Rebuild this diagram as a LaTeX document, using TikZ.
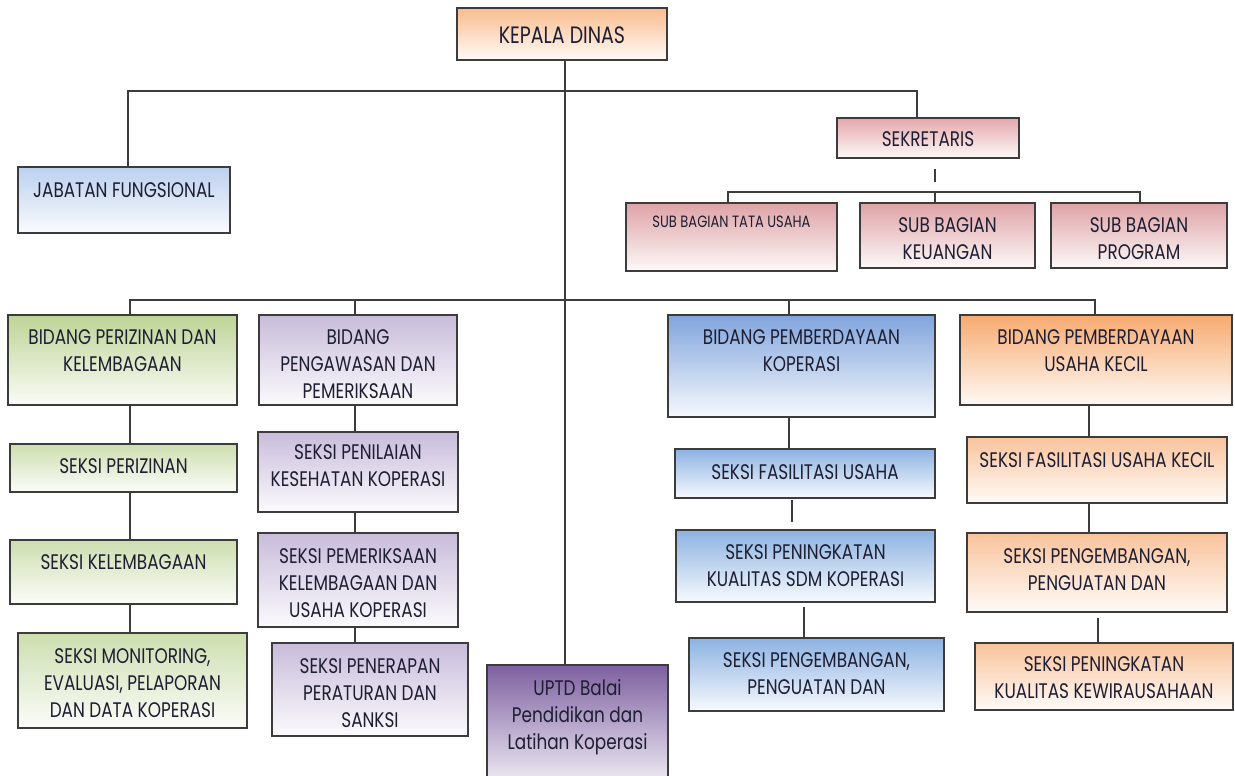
\documentclass[tikz,border=0pt]{standalone}
\usepackage{fontspec}
\setmainfont[FakeStretch=0.8]{Poppins}
\usetikzlibrary{fit}
\definecolor{txt}{RGB}{30,30,50}
\definecolor{bord}{RGB}{60,60,60}
\definecolor{cOr}{RGB}{249,188,142}
\definecolor{cOr2}{RGB}{247,170,112}
\definecolor{cOr3}{RGB}{249,195,155}
\definecolor{cBlL}{RGB}{188,208,238}
\definecolor{cBl}{RGB}{128,164,220}
\definecolor{cBl2}{RGB}{140,178,226}
\definecolor{cPk}{RGB}{228,168,170}
\definecolor{cPk2}{RGB}{222,163,166}
\definecolor{cGr}{RGB}{190,212,150}
\definecolor{cGr2}{RGB}{205,222,175}
\definecolor{cPu}{RGB}{200,188,218}
\definecolor{cUp}{RGB}{125,96,160}
\tikzset{
  obox/.style={draw=bord, line width=0.75pt, inner sep=0pt},
  lbl/.style={text=txt, align=center, font=\fontsize{12}{15.5}\selectfont, inner sep=0pt},
  conn/.style={draw=bord, line width=0.65pt},
}
\newcommand\obx[8]{%
  \node[obox, top color=#6, bottom color=#6!7!white, fit={(#2,#3)(#4,#5)}] (#1) {};
  \node[lbl] (#1t) at ({(#2+#4)/2},#7) {#8};}
\begin{document}
\begin{tikzpicture}[x=0.02cm, y=-0.02cm]
\useasboundingbox (0,0) rectangle (1235,775);
\clip (0,0) rectangle (1235,775);
\fill[white] (0,0) rectangle (1235,775);
% boxes
\obx{kd}{457}{8}{667}{60}{cOr}{35}{\fontsize{13.5}{15}\selectfont KEPALA DINAS}
\obx{jf}{18}{167}{230}{233}{cBlL}{190}{JABATAN FUNGSIONAL}
\obx{sek}{837}{118}{1019}{158}{cPk}{139}{SEKRETARIS}
\obx{sbtu}{626}{203}{837}{271}{cPk2}{222}{\fontsize{9.3}{10}\selectfont SUB BAGIAN TATA USAHA}
\obx{sbk}{860}{203}{1035}{268}{cPk2}{239}{SUB BAGIAN\\KEUANGAN}
\obx{sbp}{1051}{203}{1227}{268}{cPk2}{239}{SUB BAGIAN\\PROGRAM}
\obx{bpk}{8}{315}{237}{405}{cGr}{351}{BIDANG PERIZINAN DAN\\KELEMBAGAAN}
\obx{bpp}{259}{315}{457}{405}{cPu}{364}{BIDANG\\PENGAWASAN DAN\\PEMERIKSAAN}
\obx{bkop}{668}{315}{935}{417}{cBl}{351}{BIDANG PEMBERDAYAAN\\KOPERASI}
\obx{buk}{960}{315}{1232}{405}{cOr2}{351}{BIDANG PEMBERDAYAAN\\USAHA KECIL}
\obx{sp}{10}{444}{237}{492}{cGr2}{466}{SEKSI PERIZINAN}
\obx{sk}{10}{540}{237}{604}{cGr2}{562}{SEKSI KELEMBAGAAN}
\obx{sm}{18}{633}{247}{728}{cGr2}{683}{SEKSI MONITORING,\\EVALUASI, PELAPORAN\\DAN DATA KOPERASI}
\obx{spn}{258}{432}{458}{512}{cPu}{466}{SEKSI PENILAIAN\\KESEHATAN KOPERASI}
\obx{spm}{258}{533}{458}{627}{cPu}{583}{SEKSI PEMERIKSAAN\\KELEMBAGAAN DAN\\USAHA KOPERASI}
\obx{spr}{272}{643}{468}{736}{cPu}{693}{SEKSI PENERAPAN\\PERATURAN DAN\\SANKSI}
\obx{uptd}{487}{665}{668}{790}{cUp}{717}{UPTD Balai\\Pendidikan dan\\Latihan Koperasi}
\obx{sfu}{675}{449}{935}{498}{cBl2}{472}{SEKSI FASILITASI USAHA}
\obx{spk}{676}{530}{935}{602}{cBl2}{566}{SEKSI PENINGKATAN\\KUALITAS SDM KOPERASI}
\obx{spg}{689}{638}{944}{711}{cBl2}{674}{SEKSI PENGEMBANGAN,\\PENGUATAN DAN}
\obx{sfk}{967}{437}{1227}{503}{cOr3}{460}{SEKSI FASILITASI USAHA KECIL}
\obx{spgo}{967}{533}{1227}{612}{cOr3}{570}{SEKSI PENGEMBANGAN,\\PENGUATAN DAN}
\obx{skw}{975}{643}{1233}{710}{cOr3}{678}{SEKSI PENINGKATAN\\KUALITAS KEWIRAUSAHAAN}
% connectors
\draw[conn] (kd.south -| 565,0) -- (uptd.north -| 565,0);
\draw[conn] (jf.north -| 128,0) -- (128,91) -- (917,91) -- (sek.north -| 917,0);
\coordinate (s1) at (935,169); \coordinate (s2) at (935,182);
\draw[conn] (s1) -- (s2);
\draw[conn] (sbtu.north -| 728,0) -- (728,192) -- (1140,192) -- (sbp.north -| 1140,0);
\draw[conn] (935,192) -- (sbk.north -| 935,0);
\draw[conn] (bpk.north -| 130,0) -- (130,300) -- (1095,300) -- (buk.north -| 1095,0);
\draw[conn] (355,300) -- (bpp.north -| 355,0);
\draw[conn] (789,300) -- (bkop.north -| 789,0);
\draw[conn] (bpk.south -| 130,0) -- (sp.north -| 130,0);
\draw[conn] (sp.south -| 130,0) -- (sk.north -| 130,0);
\draw[conn] (sk.south -| 130,0) -- (sm.north -| 130,0);
\draw[conn] (bpp.south -| 355,0) -- (spn.north -| 355,0);
\draw[conn] (spn.south -| 355,0) -- (spm.north -| 355,0);
\draw[conn] (spm.south -| 355,0) -- (spr.north -| 355,0);
\draw[conn] (bkop.south -| 789,0) -- (sfu.north -| 789,0);
\coordinate (b1) at (792,500); \coordinate (b2) at (792,522);
\draw[conn] (b1) -- (b2);
\coordinate (b3) at (804,607);
\draw[conn] (b3) -- (spg.north -| 804,0);
\draw[conn] (buk.south -| 1089,0) -- (sfk.north -| 1089,0);
\draw[conn] (sfk.south -| 1089,0) -- (spgo.north -| 1089,0);
\coordinate (o1) at (1098,618);
\draw[conn] (o1) -- (skw.north -| 1098,0);
\end{tikzpicture}
\end{document}
